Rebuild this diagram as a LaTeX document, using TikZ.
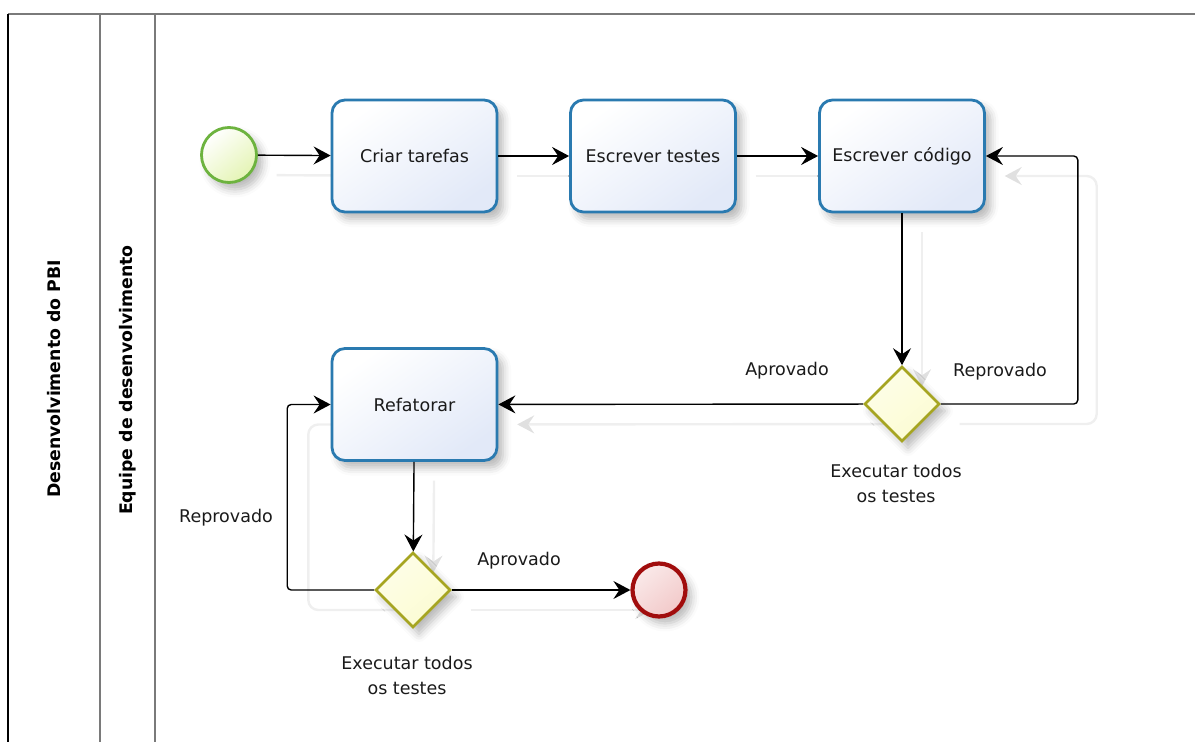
\documentclass[tikz,border=0pt]{standalone}
\usepackage{fontspec}
\setmainfont{DejaVu Sans}
\usetikzlibrary{arrows.meta,shapes.geometric,shadows.blur,calc}

\definecolor{taskline}{HTML}{2A7AB0}
\definecolor{taskfill}{HTML}{E2E9F8}
\definecolor{startline}{HTML}{6DB33F}
\definecolor{startfill}{HTML}{E4F4B4}
\definecolor{gateline}{HTML}{A6A521}
\definecolor{gatefill}{HTML}{FCFCD2}
\definecolor{endline}{HTML}{A10D0D}
\definecolor{endfill}{HTML}{F2C9C9}
\definecolor{laneline}{HTML}{7A7A7A}
\definecolor{ghostline}{HTML}{EFEFEF}
\definecolor{ghosttip}{HTML}{E0E0E0}
\definecolor{textcol}{HTML}{1A1A1A}

\tikzset{
  lbl/.style={text=textcol, font=\fontsize{17.5}{25}\selectfont, inner sep=0pt, align=center},
  lanelbl/.style={text=black, font=\fontsize{17.3}{20}\selectfont\bfseries, rotate=90, inner sep=0pt},
  softshadow/.style={blur shadow={shadow xshift=6pt, shadow yshift=-7pt, shadow blur radius=8pt, shadow opacity=28}},
  task/.style={draw=taskline, line width=2.8pt, rounded corners=13pt,
    minimum width=165pt, minimum height=112pt, top color=white, bottom color=taskfill,
    shading angle=35, softshadow, lbl},
  startev/.style={circle, draw=startline, line width=2.8pt, minimum size=55pt, inner sep=0pt,
    top color=white, bottom color=startfill, shading angle=40, softshadow},
  endev/.style={circle, draw=endline, line width=4.2pt, minimum size=53pt, inner sep=0pt,
    top color=white!60!endfill, bottom color=endfill, shading angle=40, softshadow},
  gate/.style={diamond, shape aspect=1, draw=gateline, line width=2.6pt, minimum width=75pt,
    minimum height=75pt, inner sep=0pt, top color=white!50!gatefill, bottom color=gatefill,
    shading angle=40, softshadow},
  tip/.style={-{Stealth[length=17pt, width=18pt, inset=6pt]}},
  flow/.style={draw=black, line width=1.4pt, rounded corners=4pt, tip},
  ghost/.style={draw=ghostline, line width=2.4pt, rounded corners=10pt,
    -{Stealth[length=17pt, width=18pt, inset=6pt, color=ghosttip]}},
  taskbox/.style={minimum width=165pt, minimum height=112pt},
  gatebox/.style={diamond, shape aspect=1, minimum width=75pt, minimum height=75pt, inner sep=0pt},
}

\begin{document}
\begin{tikzpicture}[x=1pt, y=-1pt]
\useasboundingbox (0,0) rectangle (1195,742);

% pool frame and lane separators
\draw[laneline, line width=1.8pt] (8,14) -- (1195,14);
\draw[black, line width=1.8pt] (8,14) -- (8,742);
\draw[laneline, line width=1.8pt] (100,14) -- (100,742);
\draw[laneline, line width=1.8pt] (155,14) -- (155,742);
\node[lanelbl] (pool) at (54,379) {Desenvolvimento do PBI};
\node[lanelbl] (lane) at (128,380) {Equipe de desenvolvimento};

% positions of the flow elements
\coordinate (ps) at (229,155);
\coordinate (p1) at (414.5,156);
\coordinate (p2) at (653,156);
\coordinate (p3) at (902,156);
\coordinate (p4) at (414.5,404.5);
\coordinate (pg1) at (902,404);
\coordinate (pg2) at (413,590);
\coordinate (pe) at (659,590);

% faint copies of the connectors, offset down and right
\node[circle, minimum size=55pt, inner sep=0pt] (gs) at ($(ps)+(20,20)$) {};
\node[taskbox] (g1t) at ($(p1)+(20,20)$) {};
\node[taskbox] (g2t) at ($(p2)+(20,20)$) {};
\node[taskbox] (g3t) at ($(p3)+(20,20)$) {};
\node[taskbox] (g4t) at ($(p4)+(20,20)$) {};
\node[gatebox] (gg1) at ($(pg1)+(20,20)$) {};
\node[gatebox] (gg2) at ($(pg2)+(20,20)$) {};
\node[circle, minimum size=53pt, inner sep=0pt] (ge) at ($(pe)+(20,20)$) {};
\draw[ghost] (gs) -- (g1t);
\draw[ghost] (g1t) -- (g2t);
\draw[ghost] (g2t) -- (g3t);
\draw[ghost] (g3t) -- (gg1);
\draw[ghost] (gg1) -- (g4t);
\draw[ghost] (gg1.east) -- ++(137,0) |- (g3t.east);
\draw[ghost] (g4t) -- (gg2);
\draw[ghost] (gg2.west) -- ++(-87,0) |- (g4t.west);
\draw[ghost] (gg2) -- (ge);

% flow elements
\node[startev] (start) at (ps) {};
\node[task] (t1) at (p1) {Criar tarefas};
\node[task] (t2) at (p2) {Escrever testes};
\node[task] (t3) at (p3) {Escrever código};
\node[task] (t4) at (p4) {Refatorar};
\node[gate] (g1) at (pg1) {};
\node[gate] (g2) at (pg2) {};
\node[endev] (end) at (pe) {};

% sequence flows
\draw[flow] (start) -- (t1);
\draw[flow] (t1) -- (t2);
\draw[flow] (t2) -- (t3);
\draw[flow] (t3) -- (g1);
\draw[flow] (g1) -- (t4);
\draw[flow] (g1.east) -- ++(137,0) |- (t3.east);
\draw[flow] (t4) -- (g2);
\draw[flow] (g2.west) -- ++(-87,0) |- (t4.west);
\draw[flow] (g2) -- (end);

% labels
\node[lbl] (a1) at (787,371) {Aprovado};
\node[lbl] (r1) at (1000,372) {Reprovado};
\node[lbl] (x1) at (896,483) {Executar todos\\os testes};
\node[lbl] (r2) at (226,518) {Reprovado};
\node[lbl] (a2) at (519,561) {Aprovado};
\node[lbl] (x2) at (407,675) {Executar todos\\os testes};
\end{tikzpicture}
\end{document}
